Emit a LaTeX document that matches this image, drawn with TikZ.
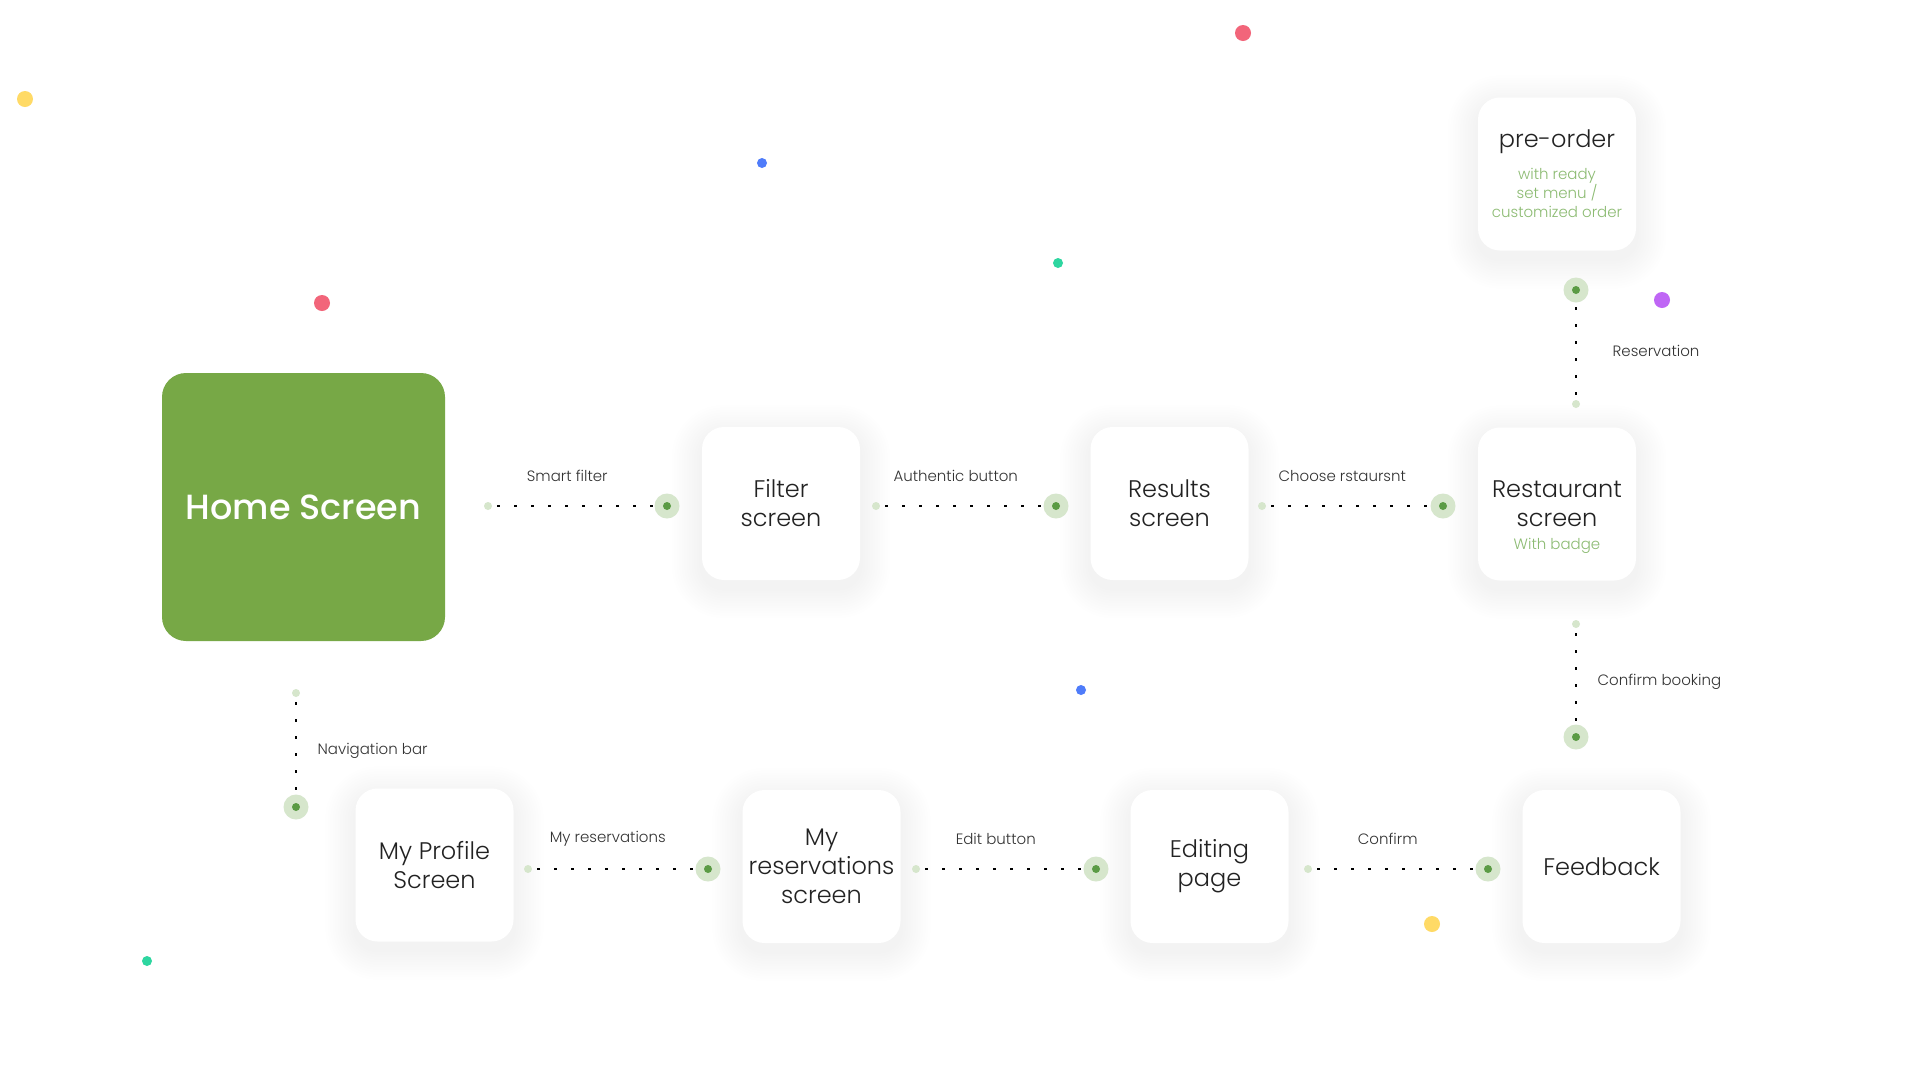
\documentclass[tikz,border=0pt]{standalone}
\usepackage{fontspec}
\setmainfont{Poppins}[UprightFont={* Light}, BoldFont={* Medium}]
\usetikzlibrary{calc}
\pgfdeclarelayer{bg}
\pgfsetlayers{bg,main}
\definecolor{homegreen}{HTML}{77A846}
\definecolor{portlight}{HTML}{D6E6CC}
\definecolor{portdark}{HTML}{5B9B45}
\definecolor{subgreen}{HTML}{8CBB72}
\definecolor{boxtext}{HTML}{222222}
\definecolor{labtext}{HTML}{333333}
\definecolor{dyellow}{HTML}{FFDA66}
\definecolor{dred}{HTML}{F2657A}
\definecolor{dblue}{HTML}{4F7CFA}
\definecolor{dteal}{HTML}{2ED6A0}
\definecolor{dpurple}{HTML}{BF66F5}
\begin{document}
\begin{tikzpicture}[x=1pt,y=-1pt,
  screenbox/.style={rectangle, rounded corners=22pt, fill=white, align=center,
    minimum width=158pt, minimum height=153pt, inner sep=0pt, text=boxtext,
    font=\fontsize{24}{29}\selectfont},
  homebox/.style={rectangle, rounded corners=24pt, fill=homegreen, align=center,
    minimum width=283pt, minimum height=268pt, inner sep=0pt, text=white,
    font=\bfseries\fontsize{35}{41}\selectfont},
  sublab/.style={font=\fontsize{15}{18}\selectfont, text=subgreen, inner sep=0pt},
  sdot/.style={circle, fill=portlight, minimum size=8pt, inner sep=0pt},
  bdot/.style={circle, fill=portlight, minimum size=25pt, inner sep=0pt,
    path picture={\fill[portdark] (path picture bounding box.center) circle[radius=4pt];}},
  conn/.style={line width=2.6pt, dash pattern=on 2.6pt off 14.4pt, dash phase=12pt, black},
  lab/.style={font=\fontsize{15}{18}\selectfont, text=labtext},
  hlab/.style={lab, midway, yshift=30pt, xshift=-6pt},
  vlab/.style={lab, midway, anchor=west}
]
\begin{pgfonlayer}{bg}
\fill[white] (0,0) rectangle (1920,1080);
\end{pgfonlayer}
\useasboundingbox (0,0) rectangle (1920,1080);

% decorative dots
\fill[dyellow] (25,99) circle[radius=8pt];
\fill[dred] (1243,33) circle[radius=8pt];
\fill[dblue] (762,163) circle[radius=5pt];
\fill[dteal] (1058,263) circle[radius=5pt];
\fill[dred] (322,303) circle[radius=8pt];
\fill[dpurple] (1662,300) circle[radius=8pt];
\fill[dblue] (1081,690) circle[radius=5pt];
\fill[dyellow] (1432,924) circle[radius=8pt];
\fill[dteal] (147,961) circle[radius=5pt];

% boxes
\node[homebox] (home) at (303.5,507) {Home Screen};
\node[screenbox] (filter) at (781,503.5) {Filter\\screen};
\node[screenbox] (results) at (1169.5,503.5) {Results\\screen};
\node[screenbox, label={[sublab, yshift=-42pt]center:With badge}] (restaurant) at (1557,504) {Restaurant\\screen};
\node[screenbox] (preorder) at (1557,174) {pre-order\\[3pt]{\fontsize{15}{18}\selectfont\color{subgreen}with ready}\\[-10pt]{\fontsize{15}{18}\selectfont\color{subgreen}set menu /}\\[-10pt]{\fontsize{15}{18}\selectfont\color{subgreen}customized order}};
\node[screenbox] (profile) at (434.5,865) {My Profile\\Screen};
\node[screenbox] (myres) at (821.5,866.5) {My\\reservations\\screen};
\node[screenbox] (editing) at (1209.5,866.5) {Editing\\page};
\node[screenbox] (feedback) at (1601.5,866.5) {Feedback};

% shadows
\begin{pgfonlayer}{bg}
\foreach \n in {preorder,filter,results,restaurant,profile,myres,editing,feedback}{
  \foreach \k in {1,...,12}{
    \pgfmathsetmacro\rr{22+\k*2.5}
    \pgfmathsetmacro\ee{\k*2.5}
    \fill[black, fill opacity=0.0045, rounded corners=\rr pt]
      ($(\n.north west)+(-\ee,-\ee+8)$) rectangle ($(\n.south east)+(\ee,\ee+8)$);
  }
}
\end{pgfonlayer}

% ports
\node[sdot] (s1) at (488,506) {};
\node[bdot] (b1) at (667,506) {};
\node[sdot] (s2) at (876,506) {};
\node[bdot] (b2) at (1056,506) {};
\node[sdot] (s3) at (1262,506) {};
\node[bdot] (b3) at (1443,506) {};
\node[sdot] (s4) at (1576,404) {};
\node[bdot] (b4) at (1576,290) {};
\node[sdot] (s5) at (1576,624) {};
\node[bdot] (b5) at (1576,737) {};
\node[sdot] (s6) at (296,693) {};
\node[bdot] (b6) at (296,807) {};
\node[sdot] (s7) at (528,869) {};
\node[bdot] (b7) at (708,869) {};
\node[sdot] (s8) at (916,869) {};
\node[bdot] (b8) at (1096,869) {};
\node[sdot] (s9) at (1308,869) {};
\node[bdot] (b9) at (1488,869) {};

% connectors
\draw[conn] (s1) -- node[hlab]{Smart filter} (b1);
\draw[conn] (s2) -- node[hlab]{Authentic button} (b2);
\draw[conn] (s3) -- node[hlab]{Choose rstaursnt} (b3);
\draw[conn] (s4) -- node[vlab, xshift=32pt]{Reservation} (b4);
\draw[conn] (s5) -- node[vlab, xshift=17pt, yshift=-6pt]{Confirm booking} (b5);
\draw[conn] (s6) -- node[vlab, xshift=17pt, yshift=-5pt]{Navigation bar} (b6);
\draw[conn] (s7) -- node[hlab]{My reservations} (b7);
\draw[conn] (s8) -- node[hlab]{Edit button} (b8);
\draw[conn] (s9) -- node[hlab]{Confirm} (b9);
\end{tikzpicture}
\end{document}
